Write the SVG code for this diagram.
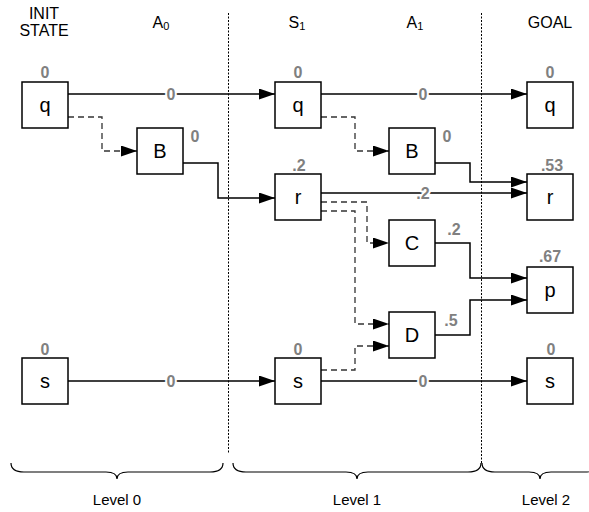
<svg xmlns="http://www.w3.org/2000/svg" width="589" height="512" viewBox="0 0 589 512">
<style>
text{font-family:"Liberation Sans",Arial,sans-serif}
.box{fill:#fff;stroke:#000;stroke-width:1.5}
.lbl{font-size:20px;text-anchor:middle;fill:#000}
.w{font-size:16px;font-weight:bold;fill:#808080;text-anchor:middle}
.ew{font-size:16px;font-weight:bold;fill:#808080;text-anchor:middle;stroke:#fff;stroke-width:4;paint-order:stroke;stroke-linejoin:round}
.hdr{font-size:16px;text-anchor:middle;fill:#000}
.lev{font-size:15px;text-anchor:middle;fill:#000}
.solid{fill:none;stroke:#000;stroke-width:1.5;marker-end:url(#arr)}
.dash{fill:none;stroke:#333;stroke-width:1.3;stroke-dasharray:6,4;marker-end:url(#arr)}
.sep{stroke:#000;stroke-width:1;stroke-dasharray:2,1.5}
.brace{fill:none;stroke:#000;stroke-width:1.2}
</style>
<defs>
<marker id="arr" markerUnits="userSpaceOnUse" markerWidth="16" markerHeight="11" refX="16" refY="5.5" orient="auto">
<path d="M0,0 L16,5.5 L0,11 z" fill="#000"/>
</marker>
</defs>
<rect width="589" height="512" fill="#fff"/>
<g id="headers">
<text class="hdr" x="44" y="19">INIT</text>
<text class="hdr" x="44" y="36">STATE</text>
<text class="hdr" x="161" y="28">A<tspan font-size="11" dy="2">0</tspan></text>
<text class="hdr" x="297" y="28">S<tspan font-size="11" dy="2">1</tspan></text>
<text class="hdr" x="415" y="28">A<tspan font-size="11" dy="2">1</tspan></text>
<text class="hdr" x="550" y="28">GOAL</text>
</g>
<g id="separators">
<line class="sep" x1="228.5" y1="13" x2="228.5" y2="453"/>
<line class="sep" x1="481.5" y1="13" x2="481.5" y2="463"/>
</g>
<g id="connectors">
<path class="solid" d="M68,94 H275"/>
<text class="ew" x="171" y="100">0</text>
<path class="dash" d="M68,117 H102 V151 H137"/>
<path class="solid" d="M183,163 H218 V198 H275"/>
<path class="solid" d="M321,94 H527"/>
<text class="ew" x="423" y="100">0</text>
<path class="dash" d="M321,117 H355 V151 H389"/>
<path class="solid" d="M435,163 H470 V182 H527"/>
<path class="solid" d="M321,193 H527"/>
<text class="ew" x="423" y="199">.2</text>
<path class="dash" d="M321,202 H367 V243 H389"/>
<path class="dash" d="M321,211 H355 V324 H389"/>
<path class="dash" d="M321,370 H355 V346 H389"/>
<path class="solid" d="M435,243 H470 V278 H527"/>
<path class="solid" d="M435,335 H470 V300 H527"/>
<path class="solid" d="M68,381 H275"/>
<text class="ew" x="171" y="387">0</text>
<path class="solid" d="M321,381 H527"/>
<text class="ew" x="423" y="387">0</text>
</g>
<g id="init-q"><rect class="box" x="22" y="82" width="46" height="46"/><text class="lbl" x="45" y="112">q</text><text class="w" x="45" y="78">0</text></g>
<g id="a0-B"><rect class="box" x="137" y="128" width="46" height="46"/><text class="lbl" x="160" y="158">B</text><text class="w" x="195" y="142">0</text></g>
<g id="init-s"><rect class="box" x="22" y="358" width="46" height="46"/><text class="lbl" x="45" y="388">s</text><text class="w" x="45" y="355">0</text></g>
<g id="s1-q"><rect class="box" x="275" y="82" width="46" height="46"/><text class="lbl" x="298" y="112">q</text><text class="w" x="298" y="78">0</text></g>
<g id="s1-r"><rect class="box" x="275" y="174" width="46" height="46"/><text class="lbl" x="298" y="204">r</text><text class="w" x="299" y="171">.2</text></g>
<g id="s1-s"><rect class="box" x="275" y="358" width="46" height="46"/><text class="lbl" x="298" y="388">s</text><text class="w" x="298" y="355">0</text></g>
<g id="a1-B"><rect class="box" x="389" y="128" width="46" height="46"/><text class="lbl" x="412" y="158">B</text><text class="w" x="447" y="142">0</text></g>
<g id="a1-C"><rect class="box" x="389" y="220" width="46" height="46"/><text class="lbl" x="412" y="250">C</text><text class="w" x="454" y="235">.2</text></g>
<g id="a1-D"><rect class="box" x="389" y="312" width="46" height="46"/><text class="lbl" x="412" y="342">D</text><text class="w" x="451" y="326">.5</text></g>
<g id="goal-q"><rect class="box" x="527" y="82" width="46" height="46"/><text class="lbl" x="550" y="112">q</text><text class="w" x="550" y="78">0</text></g>
<g id="goal-r"><rect class="box" x="527" y="174" width="46" height="46"/><text class="lbl" x="550" y="204">r</text><text class="w" x="552" y="171">.53</text></g>
<g id="goal-p"><rect class="box" x="527" y="267" width="46" height="46"/><text class="lbl" x="550" y="297">p</text><text class="w" x="550" y="262">.67</text></g>
<g id="goal-s"><rect class="box" x="527" y="358" width="46" height="46"/><text class="lbl" x="550" y="388">s</text><text class="w" x="551" y="355">0</text></g>
<g id="levels">
<path class="brace" d="M11,463 Q11,472 24,472 L106,472 Q117,472 117,479 Q117,472 128,472 L210,472 Q223,472 223,463"/>
<path class="brace" d="M233,463 Q233,472 246,472 L346,472 Q357,472 357,479 Q357,472 368,472 L468,472 Q481,472 481,463"/>
<path class="brace" d="M482,463 Q482,472 495,472 L529,472 Q540,472 540,479 Q540,472 551,472 L585,472 Q598,472 598,463"/>
<text class="lev" x="117" y="505">Level 0</text>
<text class="lev" x="357" y="505">Level 1</text>
<text class="lev" x="546" y="505">Level 2</text>
</g>
</svg>
